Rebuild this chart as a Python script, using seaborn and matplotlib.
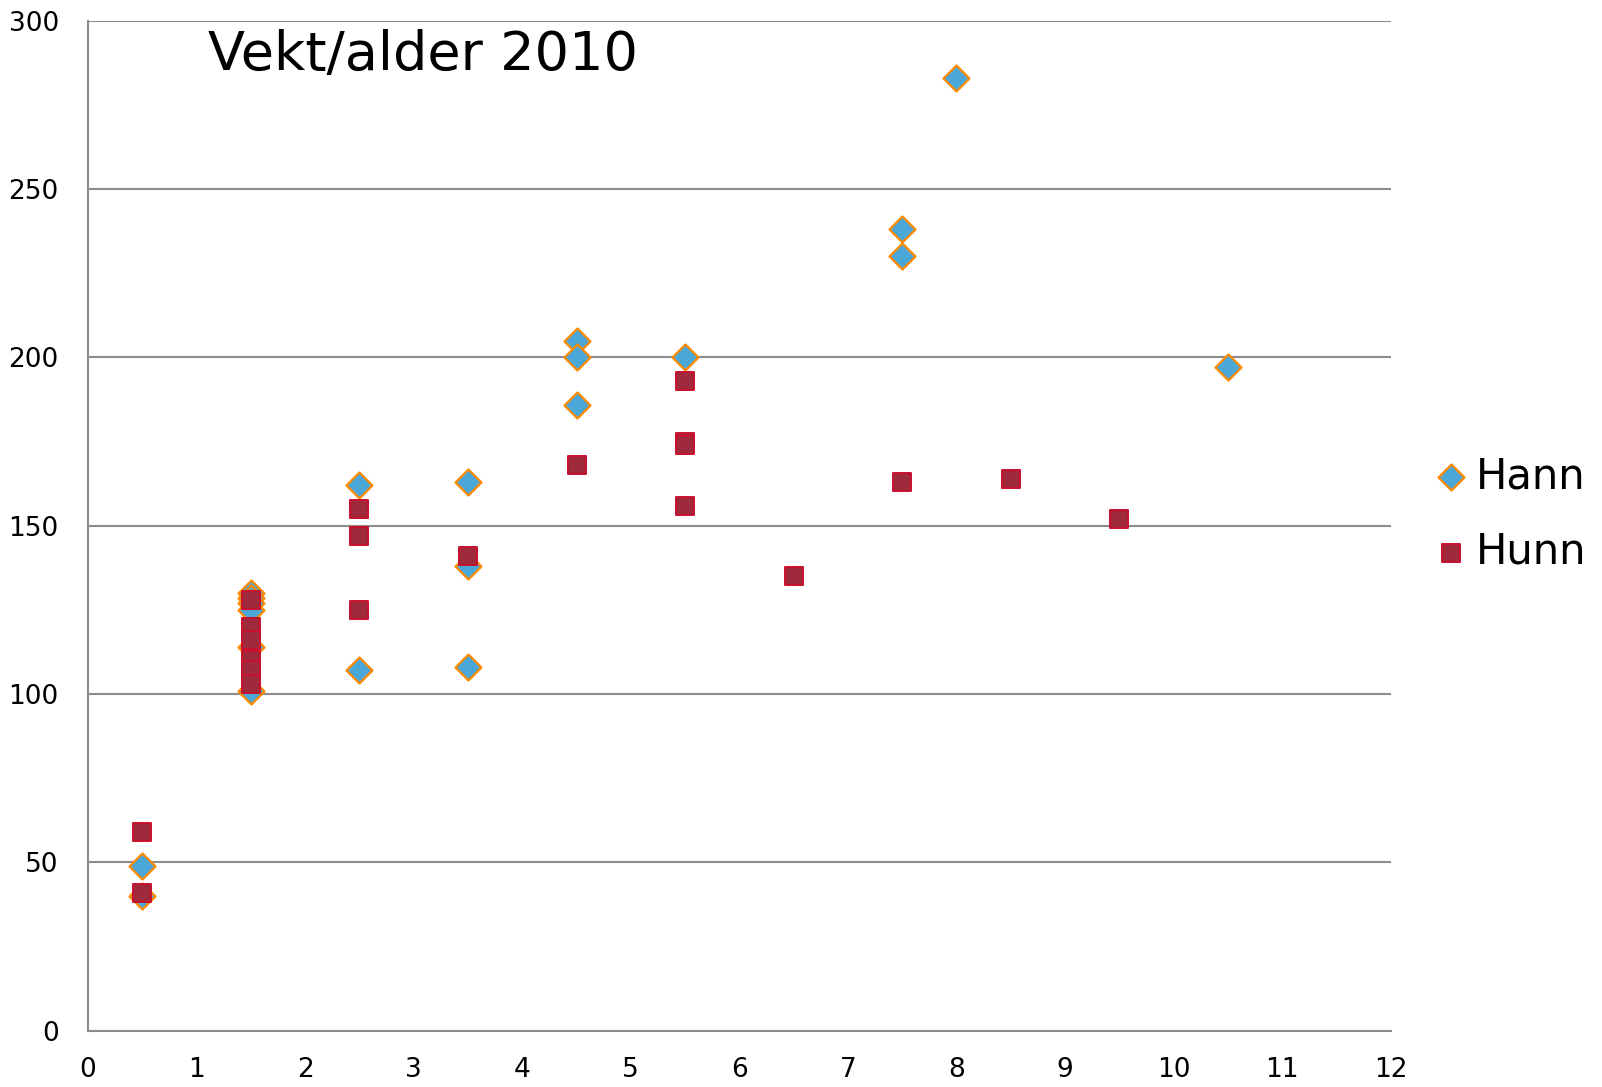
import pandas as pd
import seaborn as sns
import matplotlib.pyplot as plt

# Data: age (x) and weight (y) per sex
hann_alder = [0.5, 0.5, 1.5, 1.5, 1.5, 1.5, 1.5, 1.5, 2.5, 2.5, 3.5, 3.5, 3.5,
              4.5, 4.5, 4.5, 5.5, 7.5, 7.5, 8, 10.5]
hann_vekt = [49, 40, 130, 128.5, 127, 125, 114, 101, 162, 107, 163, 138, 108,
             205, 200, 186, 200, 238, 230, 283, 197]

hunn_alder = [0.5, 0.5, 1.5, 1.5, 1.5, 1.5, 1.5, 1.5, 2.5, 2.5, 2.5, 3.5,
              4.5, 5.5, 5.5, 5.5, 5.5, 6.5, 7.5, 8.5, 9.5]
hunn_vekt = [59, 41, 128, 120, 116, 110, 107, 103, 155, 147, 125, 141,
             168, 193, 175, 174, 156, 135, 163, 164, 152]

hann = pd.DataFrame({"alder": hann_alder, "vekt": hann_vekt, "kjonn": "Hann"})
hunn = pd.DataFrame({"alder": hunn_alder, "vekt": hunn_vekt, "kjonn": "Hunn"})

sns.set_style("white")
plt.rcParams["font.family"] = ["DejaVu Sans"]
plt.rcParams["text.color"] = "black"

fig = plt.figure(figsize=(16.02, 10.87), dpi=100)
ax = fig.add_axes([88 / 1602, 1 - 1030.7 / 1087, (1390.7 - 88) / 1602, (1030.7 - 20.7) / 1087])

grid_col = "#8c8c8c"

sns.scatterplot(data=hann, x="alder", y="vekt", marker="D", s=175,
                color="#4ba7d8", edgecolor="#ff8a00", linewidth=1.6,
                label="Hann", ax=ax, zorder=3)
sns.scatterplot(data=hunn, x="alder", y="vekt", marker="s", s=185,
                color="#9e2a3b", edgecolor="#c8102e", linewidth=1.4,
                label="Hunn", ax=ax, zorder=4)

ax.set_xlim(0, 12)
ax.set_ylim(0, 300)
ax.set_xticks(range(0, 13))
ax.set_yticks(range(0, 301, 50))
ax.set_xlabel("")
ax.set_ylabel("")

ax.yaxis.grid(True, color=grid_col, linewidth=1.5)
ax.xaxis.grid(False)
ax.set_axisbelow(True)
for side in ["top", "right"]:
    ax.spines[side].set_visible(False)
for side in ["left", "bottom"]:
    ax.spines[side].set_color(grid_col)
    ax.spines[side].set_linewidth(1.5)

ax.tick_params(axis="both", colors=grid_col, length=9, width=1.5, labelsize=19,
               labelcolor="black")
ax.tick_params(axis="x", pad=10)
ax.tick_params(axis="y", pad=12)

ax.text(208 / 1602, 1 - 70 / 1087, "Vekt/alder 2010", fontsize=39, color="black",
        transform=fig.transFigure, ha="left", va="baseline")

ax.legend(loc="center left", bbox_to_anchor=(1418 / 1602, 1 - 514 / 1087),
          bbox_transform=fig.transFigure, frameon=False, fontsize=30,
          handlelength=0.8, handletextpad=0.2, labelspacing=0.8,
          borderaxespad=0)

fig.savefig("out.png", dpi=100)
